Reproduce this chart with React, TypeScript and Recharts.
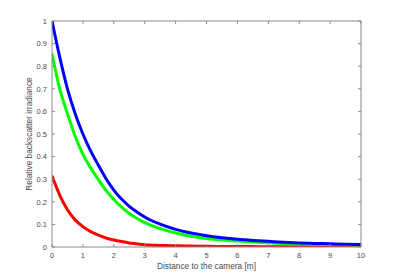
import React from 'react';
import { LineChart, Line, XAxis, YAxis, Label } from 'recharts';

const distances = [0, 0.25, 0.5, 0.75, 1, 1.25, 1.5, 1.75, 2, 2.25, 2.5, 2.75, 3, 3.5, 4, 4.5, 5, 5.5, 6, 6.5, 7, 7.5, 8, 8.5, 9, 9.5, 10];
const blueValues = [1.0, 0.84, 0.70, 0.59, 0.50, 0.425, 0.362, 0.302, 0.252, 0.212, 0.18, 0.155, 0.133, 0.101, 0.078, 0.062, 0.050, 0.041, 0.034, 0.029, 0.025, 0.021, 0.018, 0.016, 0.014, 0.012, 0.011];
const greenValues = [0.855, 0.70, 0.59, 0.49, 0.41, 0.35, 0.298, 0.25, 0.21, 0.176, 0.148, 0.126, 0.108, 0.081, 0.062, 0.048, 0.038, 0.031, 0.026, 0.022, 0.019, 0.016, 0.014, 0.012, 0.011, 0.010, 0.009];
const redValues = [0.315, 0.23, 0.165, 0.12, 0.09, 0.068, 0.053, 0.04, 0.031, 0.024, 0.018, 0.014, 0.010, 0.007, 0.005, 0.004, 0.003, 0.0025, 0.002, 0.0018, 0.0015, 0.0013, 0.001, 0.001, 0.001, 0.001, 0.001];
const xTicks = [0, 1, 2, 3, 4, 5, 6, 7, 8, 9, 10];
const yTicks = [0, 0.1, 0.2, 0.3, 0.4, 0.5, 0.6, 0.7, 0.8, 0.9, 1];
const xLabel = 'Distance to the camera [m]';
const yLabel = 'Relative backscatter irradiance';

const data = distances.map((d, i) => ({ d, blue: blueValues[i], green: greenValues[i], red: redValues[i] }));

const AXIS = '#8a8a8a';
const TXT = '#4a4a4a';
const FONT = '"Liberation Sans", Arial, sans-serif';
const TL = 3;

const fmtY = (v: number) => (Math.round(v * 10) / 10).toString();

const BottomTick = (p: any) => (
  <g>
    <line x1={p.x} y1={p.y} x2={p.x} y2={p.y - TL} stroke={AXIS} strokeWidth={1} />
    <text x={p.x} y={p.y + 11} textAnchor="middle" fontSize={7.5} fill={TXT} fontFamily={FONT}>{p.payload.value}</text>
  </g>
);
const TopTick = (p: any) => (
  <line x1={p.x} y1={p.y} x2={p.x} y2={p.y + TL} stroke={AXIS} strokeWidth={1} />
);
const LeftTick = (p: any) => (
  <g>
    <line x1={p.x} y1={p.y} x2={p.x + TL} y2={p.y} stroke={AXIS} strokeWidth={1} />
    <text x={p.x - 5} y={p.y + 2.7} textAnchor="end" fontSize={7.5} fill={TXT} fontFamily={FONT}>{fmtY(p.payload.value)}</text>
  </g>
);
const RightTick = (p: any) => (
  <line x1={p.x} y1={p.y} x2={p.x - TL} y2={p.y} stroke={AXIS} strokeWidth={1} />
);

const XLabelContent = (p: any) => {
  const vb = p.viewBox;
  return (
    <text x={vb.x + vb.width / 2} y={vb.y + 22} textAnchor="middle" fontSize={8.3} fill={TXT} fontFamily={FONT}>{xLabel}</text>
  );
};
const YLabelContent = (p: any) => {
  const vb = p.viewBox;
  const x = vb.x + vb.width - 20;
  const y = vb.y + vb.height / 2;
  return (
    <text x={x} y={y} transform={`rotate(-90 ${x} ${y})`} textAnchor="middle" fontSize={8.3} fill={TXT} fontFamily={FONT}>{yLabel}</text>
  );
};

export default function App() {
  return (
    <div style={{ position: 'absolute', left: 0, top: 0, background: '#fff' }}>
      <LineChart width={399} height={278} data={data} margin={{ top: 16, right: 33, bottom: 11, left: 22 }}>
        <XAxis xAxisId="b" dataKey="d" type="number" domain={[0, 10]} ticks={xTicks} orientation="bottom" height={20}
          tickSize={0} tickMargin={0} tickLine={false} tick={BottomTick} axisLine={{ stroke: AXIS }} interval={0} allowDataOverflow>
          <Label content={XLabelContent} />
        </XAxis>
        <XAxis xAxisId="t" dataKey="d" type="number" domain={[0, 10]} ticks={xTicks} orientation="top" height={5}
          tickSize={0} tickMargin={0} tickLine={false} tick={TopTick} axisLine={{ stroke: AXIS }} interval={0} allowDataOverflow />
        <YAxis yAxisId="l" type="number" domain={[0, 1]} ticks={yTicks} orientation="left" width={30}
          tickSize={0} tickMargin={0} tickLine={false} tick={LeftTick} axisLine={{ stroke: AXIS }} interval={0} allowDataOverflow>
          <Label content={YLabelContent} />
        </YAxis>
        <YAxis yAxisId="r" type="number" domain={[0, 1]} ticks={yTicks} orientation="right" width={5}
          tickSize={0} tickMargin={0} tickLine={false} tick={RightTick} axisLine={{ stroke: AXIS }} interval={0} allowDataOverflow />
        <Line xAxisId="b" yAxisId="l" type="monotone" dataKey="red" stroke="#ff0000" strokeWidth={3} dot={false} isAnimationActive={false} />
        <Line xAxisId="b" yAxisId="l" type="monotone" dataKey="green" stroke="#00ff00" strokeWidth={3} dot={false} isAnimationActive={false} />
        <Line xAxisId="b" yAxisId="l" type="monotone" dataKey="blue" stroke="#0000ff" strokeWidth={3} dot={false} isAnimationActive={false} />
      </LineChart>
    </div>
  );
}
